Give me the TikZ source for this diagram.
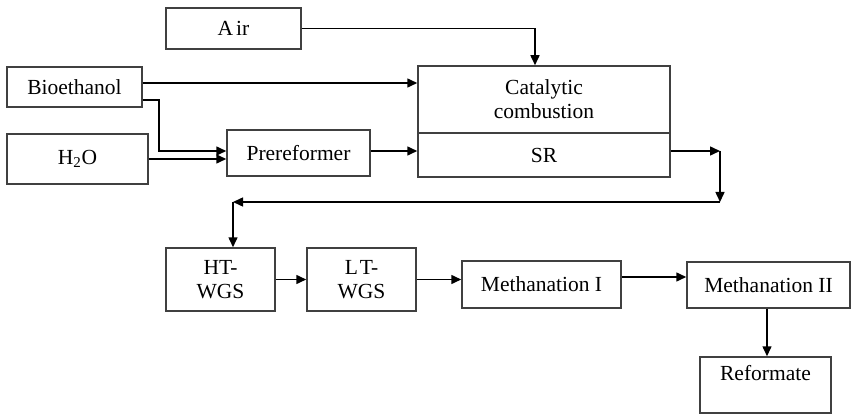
\documentclass[tikz,border=0pt]{standalone}
\usepackage{fontspec}
\setmainfont{Liberation Serif}
\usetikzlibrary{arrows.meta,calc}
\begin{document}
\begin{tikzpicture}[x=1pt,y=-1pt,
  box/.style={draw=black!75,line width=1.5pt,rectangle,inner sep=0pt,align=center,
    font=\fontsize{21.5}{24}\selectfont},
  arr/.style={draw=black,line width=1.5pt,-{Triangle[length=10pt,width=9pt]}}]
\useasboundingbox (0,0) rectangle (851,414);
\node[box,minimum width=135pt,minimum height=41pt] (air) at (233.5,28.5) {A\kern3pt ir};
\node[box,minimum width=135pt,minimum height=40pt] (bio) at (74.5,87) {Bioethanol};
\node[box,minimum width=141pt,minimum height=50pt] (h2o) at (77.5,159) {H\textsubscript{2}O};
\node[box,minimum width=143pt,minimum height=46pt] (pre) at (298.5,153) {Prereformer};
\node[box,minimum width=252pt,minimum height=67pt] (cc) at (544,99.5) {Catalytic\\combustion};
\node[box,minimum width=252pt,minimum height=44pt] (sr) at (544,155) {SR};
\node[box,minimum width=109pt,minimum height=63pt] (ht) at (220.5,279.5) {HT-\\WGS};
\node[box,minimum width=109pt,minimum height=63pt] (lt) at (361.5,279.5) {L\kern2pt T-\\WGS};
\node[box,minimum width=159pt,minimum height=47pt] (m1) at (541.5,284.5) {Methanation I};
\node[box,minimum width=163pt,minimum height=46pt] (m2) at (768.5,285) {Methanation II};
\node[box,minimum width=131pt,minimum height=56pt,text height=12pt,text depth=21pt] (ref) at (765.5,385) {Reformate};
% helper coordinates
\coordinate (ya) at (0,83);
\coordinate (yb) at (0,100);
\coordinate (yc) at (0,151);
\coordinate (yd) at (0,159);
\coordinate (ye) at (0,277);
\coordinate (xa) at (535,0);
\coordinate (bk) at (159,100);
\coordinate (c1) at (720,151);
\coordinate (c2) at (720,202);
\coordinate (c3) at (233,202);
\coordinate (xr) at (767,0);
% connectors
\draw[arr] (air.east) -| (cc.north -| xa);
\draw[arr] (bio.east |- ya) -- (cc.west |- ya);
\draw[arr] (bio.east |- yb) -- (bk) |- (pre.west |- yc);
\draw[arr] (h2o.east |- yd) -- (pre.west |- yd);
\draw[arr] (pre.east |- yc) -- (sr.west |- yc);
\draw[arr] (sr.east |- yc) -- (c1);
\draw[arr] (c1) -- (c2);
\draw[arr] (c2) -- (c3);
\draw[arr] (c3) -- (ht.north -| c3);
\draw[arr] (ht.east) -- (lt.west);
\draw[arr] (lt.east) -- (m1.west |- lt.east);
\draw[arr] (m1.east |- ye) -- (m2.west |- ye);
\draw[arr] (m2.south -| xr) -- (ref.north -| xr);
\end{tikzpicture}
\end{document}
